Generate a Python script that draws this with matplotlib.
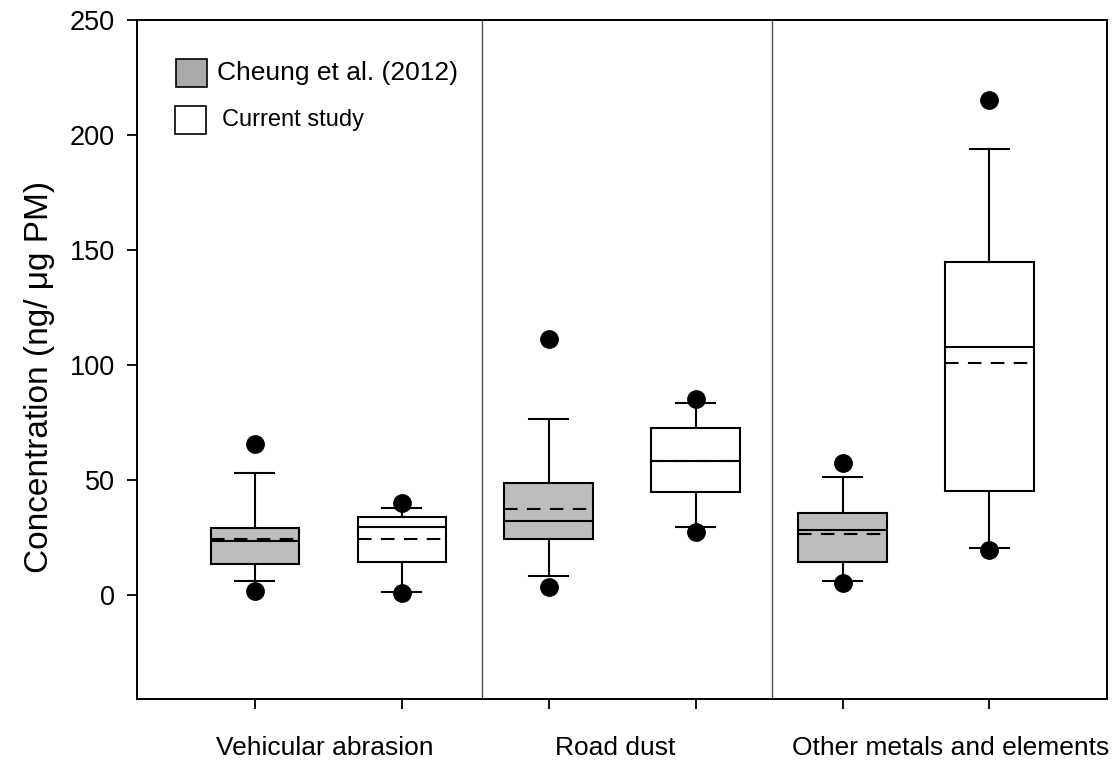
import numpy as np
import matplotlib.pyplot as plt
from matplotlib.patches import Rectangle

plt.rcParams['font.family'] = ['Liberation Sans', 'DejaVu Sans']

# box statistics, order: vehicular (Cheung, current), road dust (...), other metals (...)
studies = ['Cheung et al. (2012)', 'Current study', 'Cheung et al. (2012)', 'Current study',
           'Cheung et al. (2012)', 'Current study']
q1 = [13.6, 14.6, 24.5, 44.8, 14.6, 45.5]
med = [23.6, 29.7, 32.2, 58.3, 28.3, 108.0]
q3 = [29.4, 34.1, 49.0, 72.6, 35.7, 144.9]
mean = [24.3, 24.5, 37.4, 58.3, 26.8, 101.0]
whislo = [6.4, 1.6, 8.4, 29.9, 6.2, 20.7]
whishi = [53.3, 38.0, 76.5, 83.8, 51.3, 193.9]
fliers = [[65.6, 1.9], [40.1, 1.2], [111.2, 3.5], [85.5, 27.5], [57.5, 5.5], [215.2, 19.9]]
groups = ['Vehicular abrasion', 'Road dust', 'Other metals and elements']
yticks = [0, 50, 100, 150, 200, 250]

gray = '#bdbdbd'
pos = np.arange(1, 7)

fig = plt.figure(figsize=(11.16, 7.61), dpi=100)
ax = fig.add_axes([0.1228, 0.0815, 0.992 - 0.1228, 0.9737 - 0.0815])

stats = []
for i in range(6):
    stats.append({'q1': q1[i], 'med': med[i], 'q3': q3[i], 'mean': mean[i],
                  'whislo': whislo[i], 'whishi': whishi[i], 'fliers': fliers[i],
                  'label': studies[i]})

bp = ax.bxp(stats, positions=pos, widths=0.6, capwidths=0.27, patch_artist=True,
            showmeans=True, meanline=True,
            boxprops=dict(linewidth=1.5, edgecolor='black'),
            medianprops=dict(color='black', linewidth=1.5),
            meanprops=dict(color='black', linewidth=1.5, linestyle=(0, (6.5, 4.5))),
            whiskerprops=dict(linewidth=1.5, color='black'),
            capprops=dict(linewidth=1.5, color='black'),
            flierprops=dict(marker='o', markerfacecolor='black', markeredgecolor='black',
                            markersize=12.5))
for i, box in enumerate(bp['boxes']):
    box.set_facecolor(gray if i % 2 == 0 else 'white')
for ln in bp['fliers']:
    ln.set_zorder(5)

# group separators
for xs in [2.55, 4.52]:
    ax.axvline(xs, color='#505050', linewidth=1.0)

ax.set_xlim(0.2, 6.8)
ax.set_ylim(-45, 250)
ax.set_yticks(yticks)
ax.set_xticks(pos)
ax.set_xticklabels([])
ax.tick_params(axis='both', direction='out', length=7, width=1.3, labelsize=19.5)
ax.tick_params(axis='y', pad=9)
for s in ax.spines.values():
    s.set_linewidth(1.4)

ax.set_ylabel('Concentration (ng/ μg PM)', fontsize=24, labelpad=10.5)
ax.yaxis.label.set_y(0.474)

# group names under the axis
for gx, name in zip([1.478, 3.453, 5.736], groups):
    ax.text(gx, -0.083, name, transform=ax.get_xaxis_transform(), ha='center',
            va='baseline', fontsize=19)

# legend drawn by hand
ax.add_patch(Rectangle((0.0397, 0.9425), 0.032, -0.0415, transform=ax.transAxes,
                       facecolor='#aaaaaa', edgecolor='black', linewidth=1.2))
ax.add_patch(Rectangle((0.0392, 0.8733), 0.032, -0.0415, transform=ax.transAxes,
                       facecolor='white', edgecolor='black', linewidth=1.2))
ax.text(0.0825, 0.922, studies[0], transform=ax.transAxes, va='center', fontsize=19)
ax.text(0.0877, 0.853, studies[1], transform=ax.transAxes, va='center', fontsize=17)

fig.savefig('out.png', dpi=100)
